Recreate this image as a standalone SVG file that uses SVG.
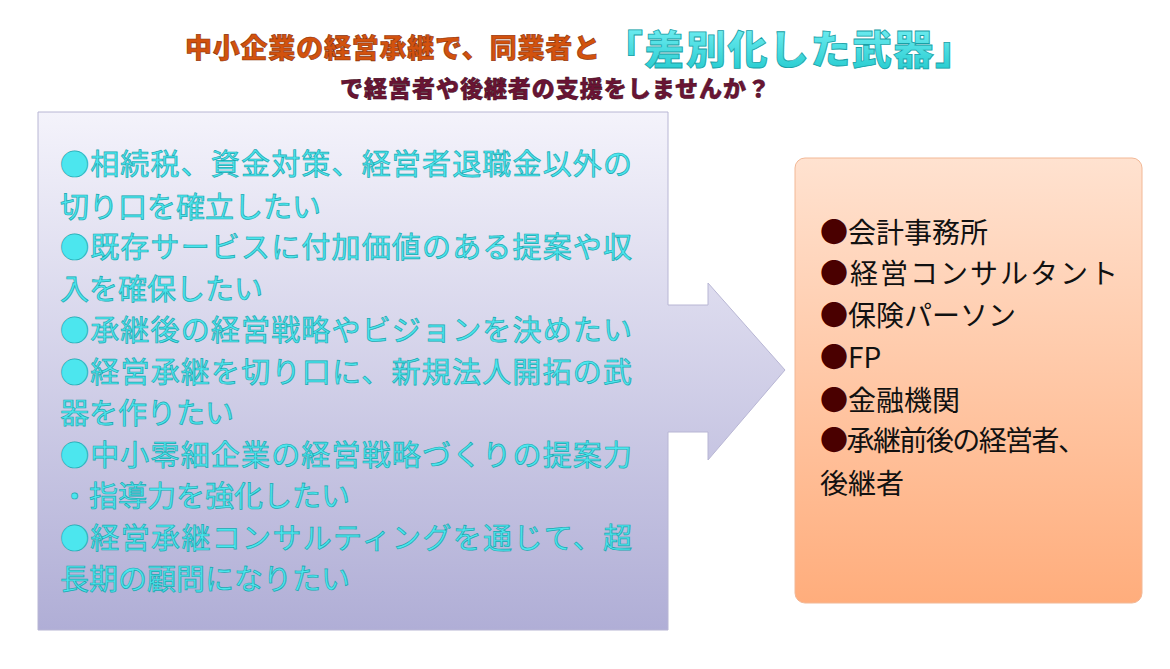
<svg xmlns="http://www.w3.org/2000/svg" width="1170" height="669" viewBox="0 0 1170 669">
<defs>
<linearGradient id="gl" x1="0" y1="0" x2="0" y2="1"><stop offset="0" stop-color="#f4f3fb"/><stop offset="1" stop-color="#b0aed6"/></linearGradient>
<linearGradient id="gr" x1="0" y1="0" x2="0" y2="1"><stop offset="0" stop-color="#ffe2d0"/><stop offset="1" stop-color="#ffad7c"/></linearGradient>
<linearGradient id="gc" x1="0" y1="0" x2="0" y2="1"><stop offset="0" stop-color="#7ff4f8"/><stop offset="1" stop-color="#1ec8cc"/></linearGradient>
<style>
text{font-family:"Noto Sans CJK JP","Noto Sans",sans-serif}
.l{font-size:29px;fill:#4ce6ee;stroke:#1aa8b0;stroke-width:0.7}
.r{font-size:28px;fill:#111}
</style>
</defs>
<g id="title">
<text x="185" y="58" font-size="27" font-weight="900" fill="#d2520e" stroke="#8a3008" stroke-width="0.6" textLength="415">中小企業の経営承継で、同業者と</text>
<text x="603" y="64" font-size="40" font-weight="900" fill="url(#gc)" stroke="#18a0a6" stroke-width="0.8" textLength="372">「差別化した武器」</text>
<text x="340" y="97" font-size="23" font-weight="900" fill="#6a1434" stroke="#3a0818" stroke-width="0.5" textLength="430">で経営者や後継者の支援をしませんか？</text>
</g>
<g id="left">
<path d="M38 112H668V305H708V283L785 370L708 460V432H668V630H38Z" fill="url(#gl)" stroke="#b8b6d4" stroke-width="1"/>
<text class="l" x="60" y="175" textLength="572">●相続税、資金対策、経営者退職金以外の</text>
<text class="l" x="60" y="218">切り口を確立したい</text>
<text class="l" x="60" y="258" textLength="572">●既存サービスに付加価値のある提案や収</text>
<text class="l" x="60" y="300">入を確保したい</text>
<text class="l" x="60" y="341" textLength="572">●承継後の経営戦略やビジョンを決めたい</text>
<text class="l" x="60" y="383" textLength="572">●経営承継を切り口に、新規法人開拓の武</text>
<text class="l" x="60" y="424">器を作りたい</text>
<text class="l" x="60" y="466" textLength="572">●中小零細企業の経営戦略づくりの提案力</text>
<text class="l" x="60" y="507">・指導力を強化したい</text>
<text class="l" x="60" y="549" textLength="572">●経営承継コンサルティングを通じて、超</text>
<text class="l" x="60" y="590">長期の顧問になりたい</text>
</g>
<g id="right">
<rect x="795" y="158" width="347" height="445" rx="10" fill="url(#gr)" stroke="#f2b896" stroke-width="1"/>
<g class="r">
<text x="820" y="243"><tspan fill="#4a0000">●</tspan>会計事務所</text>
<text x="820" y="284" textLength="298"><tspan fill="#4a0000">●</tspan>経営コンサルタント</text>
<text x="820" y="326"><tspan fill="#4a0000">●</tspan>保険パーソン</text>
<text x="820" y="368"><tspan fill="#4a0000">●</tspan>FP</text>
<text x="820" y="411"><tspan fill="#4a0000">●</tspan>金融機関</text>
<text x="820" y="451" textLength="266"><tspan fill="#4a0000">●</tspan>承継前後の経営者、</text>
<text x="820" y="494">後継者</text>
</g>
</g>
<g id="connectors"/>
</svg>
